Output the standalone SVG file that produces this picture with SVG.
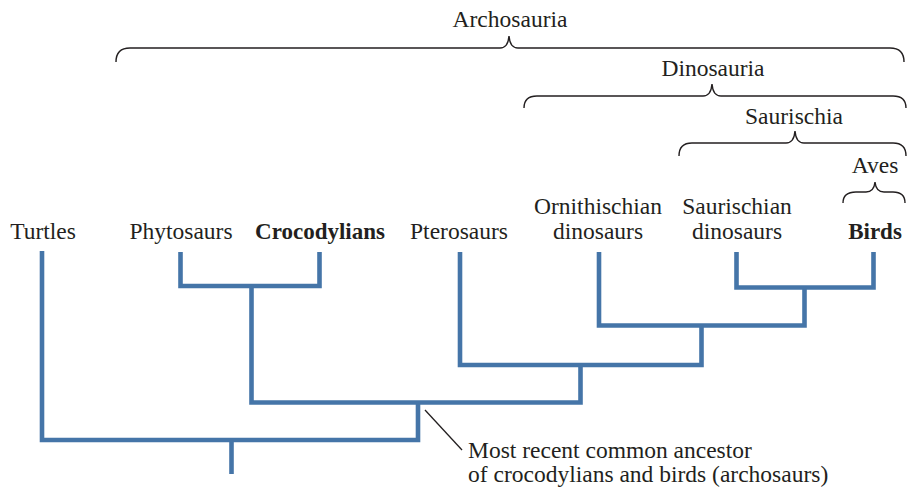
<svg xmlns="http://www.w3.org/2000/svg" width="912" height="490" viewBox="0 0 912 490">
<style>
text{font-family:"Liberation Serif","Times New Roman",serif;font-size:23.5px;fill:#231f20;text-anchor:middle}
.b{font-weight:bold;font-size:23px}
.br{fill:none;stroke:#231f20;stroke-width:1.4}
.t{fill:none;stroke:#4575a8;stroke-width:4.6;stroke-linejoin:miter;stroke-linecap:butt}
.ld{fill:none;stroke:#231f20;stroke-width:1.3}
</style>
<rect width="912" height="490" fill="#fff"/>
<g id="clade-archosauria">
<path class="br" d="M116,62 Q116,48 130,48 L500,48 Q508,48 509,36 Q510,48 518,48 L890,48 Q904,48 904,62"/>
<text x="510" y="27">Archosauria</text>
</g>
<g id="clade-dinosauria">
<path class="br" d="M524,108 Q524,96 537,96 L703,96 Q711,96 712,84 Q713,96 721,96 L893,96 Q906,96 906,108"/>
<text x="713" y="76">Dinosauria</text>
</g>
<g id="clade-saurischia">
<path class="br" d="M679,156 Q679,143 692,143 L786,143 Q794,143 795,131 Q796,143 804,143 L893,143 Q906,143 906,156"/>
<text x="794" y="124">Saurischia</text>
</g>
<g id="clade-aves">
<path class="br" d="M843,203 Q843,192 856,192 L866,192 Q874,192 875,182 Q876,192 884,192 L893,192 Q905,192 905,203"/>
<text x="875" y="173">Aves</text>
</g>
<g id="turtles"><text x="43" y="239">Turtles</text></g>
<g id="phytosaurs"><text x="181" y="239">Phytosaurs</text></g>
<g id="crocodylians"><text class="b" x="320" y="239">Crocodylians</text></g>
<g id="pterosaurs"><text x="459" y="239">Pterosaurs</text></g>
<g id="ornithischian"><text x="598" y="214">Ornithischian</text><text x="598" y="239">dinosaurs</text></g>
<g id="saurischian"><text x="737" y="214">Saurischian</text><text x="737" y="239">dinosaurs</text></g>
<g id="birds"><text class="b" x="875" y="239">Birds</text></g>
<g id="ancestor-note">
<text x="468" y="458" style="text-anchor:start">Most recent common ancestor</text>
<text x="468" y="482" style="text-anchor:start">of crocodylians and birds (archosaurs)</text>
</g>
<g id="connectors">
<path class="t" d="M42,251 V440 H418 V402.5"/>
<path class="t" d="M231.5,440 V474"/>
<path class="t" d="M180.5,252 V286 H319.5 V252"/>
<path class="t" d="M251.5,286 V402.5 H580.5 V365"/>
<path class="t" d="M460,252 V365 H701.5 V325.5"/>
<path class="t" d="M599,252 V325.5 H804.5 V287.5"/>
<path class="t" d="M736.5,252 V287.5 H873.5 V252"/>
<path class="ld" d="M425,410 L462,450"/>
</g>
</svg>
